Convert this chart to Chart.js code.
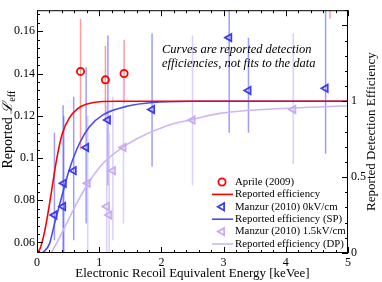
<!DOCTYPE html>
<html>
<head>
<meta charset="utf-8">
<script src="https://cdn.jsdelivr.net/npm/chart.js@4.4.0/dist/chart.umd.min.js"></script>
<style>
html, body { margin: 0; padding: 0; background: #fff; }
#wrap { width: 382px; height: 282px; }
</style>
</head>
<body>
<div id="wrap"><canvas id="chart" width="382" height="282"></canvas></div>
<script>
const SERIF = "'Liberation Serif', 'DejaVu Serif', serif";

// Aprile (2009): energy [keVee], Leff, error band
const aprileE  = [0.70, 1.10, 1.40, 4.71];
const aprileL  = [0.141, 0.137, 0.140, 0.190];
const aprileLo = [0.104, 0.118, 0.126, 0.166];
const aprileHi = [0.166, 0.153, 0.156, 0.215];

// Manzur (2010) 0 kV/cm
const manzur0E  = [0.28, 0.42, 0.43, 0.59, 0.79, 1.14, 1.85, 3.09, 3.40, 4.64];
const manzur0L  = [0.073, 0.077, 0.088, 0.094, 0.105, 0.118, 0.123, 0.157, 0.132, 0.133];
const manzur0Lo = [0.061, 0.050, 0.050, 0.061, 0.069, 0.087, 0.096, 0.112, 0.112, 0.102];
const manzur0Hi = [0.112, 0.125, 0.120, 0.129, 0.143, 0.158, 0.159, 0.190, 0.157, 0.190];

// Manzur (2010) 1.5 kV/cm
const manzur15E  = [0.815, 1.12, 1.16, 1.22, 1.39, 2.50, 4.12];
const manzur15L  = [0.088, 0.077, 0.073, 0.094, 0.105, 0.118, 0.123];
const manzur15Lo = [0.050, 0.050, 0.055, 0.061, 0.069, 0.087, 0.097];
const manzur15Hi = [0.120, 0.125, 0.112, 0.129, 0.143, 0.158, 0.159];

// reported detection efficiencies (right axis)
const effAprileE = [0, 0.05, 0.10, 0.15, 0.20, 0.25, 0.30, 0.35, 0.41, 0.52, 0.65, 0.79, 1.0, 1.3, 5];
const effAprile  = [0, 0.03, 0.10, 0.20, 0.32, 0.45, 0.58, 0.69, 0.79, 0.89, 0.95, 0.98, 0.997, 1, 1];
const effSPE = [0.09, 0.20, 0.28, 0.41, 0.52, 0.68, 0.84, 1.06, 1.48, 1.82, 2.5, 5];
const effSP  = [0, 0.06, 0.19, 0.39, 0.55, 0.72, 0.83, 0.91, 0.97, 0.99, 1, 1];
const effDPE = [0.225, 0.31, 0.47, 0.63, 0.815, 1.06, 1.32, 1.59, 2.08, 2.5, 2.94, 4.12, 5];
const effDP  = [0, 0.06, 0.19, 0.32, 0.455, 0.59, 0.68, 0.75, 0.837, 0.88, 0.92, 0.956, 0.97];

// tick labels
const xTicks  = [0, 1, 2, 3, 4, 5];
const yTicks  = [0.06, 0.08, 0.1, 0.12, 0.14, 0.16];
const y2Ticks = [0, 0.5, 1];

const RED = '#ff0000', BLUE = '#3c3cf0', LILAC = '#c8abf2';

const pts = (xs, ys) => xs.map((x, i) => ({ x, y: ys[i] }));

function markerSet(label, xs, ys, lo, hi, color, barColor, style) {
    return {
        label, data: pts(xs, ys), errLo: lo, errHi: hi, errColor: barColor,
        yAxisID: 'y', showLine: false,
        pointStyle: style, rotation: style === 'triangle' ? -90 : 0,
        pointRadius: style === 'triangle' ? 4.2 : 3.6,
        borderColor: color, backgroundColor: 'rgba(0,0,0,0)', pointBorderWidth: 1.8,
        clip: 0
    };
}

function curveSet(label, xs, ys, color) {
    return {
        label, data: pts(xs, ys), yAxisID: 'y2', showLine: true,
        borderColor: color, backgroundColor: color, borderWidth: 1.6,
        pointRadius: 0, cubicInterpolationMode: 'monotone', isCurve: true
    };
}

const errorBars = {
    id: 'errorBars',
    beforeDatasetsDraw(chart) {
        const { ctx, chartArea: a, scales } = chart;
        ctx.save();
        ctx.beginPath(); ctx.rect(a.left, a.top, a.right - a.left, a.bottom - a.top); ctx.clip();
        chart.data.datasets.forEach(ds => {
            if (!ds.errLo) return;
            ctx.strokeStyle = ds.errColor; ctx.lineWidth = 1.5;
            ds.data.forEach((p, i) => {
                const x = scales.x.getPixelForValue(p.x);
                ctx.beginPath();
                ctx.moveTo(x, scales.y.getPixelForValue(ds.errLo[i]));
                ctx.lineTo(x, scales.y.getPixelForValue(ds.errHi[i]));
                ctx.stroke();
            });
        });
        ctx.restore();
    }
};

const frame = {
    id: 'frame',
    afterDraw(chart) {
        const { ctx, chartArea: a, scales } = chart;
        ctx.save();
        ctx.strokeStyle = '#000'; ctx.lineWidth = 1;
        const seg = (x1, y1, x2, y2) => { ctx.beginPath(); ctx.moveTo(x1, y1); ctx.lineTo(x2, y2); ctx.stroke(); };
        ctx.strokeRect(a.left + 0.5, a.top + 0.5, a.right - a.left - 1, a.bottom - a.top - 1);
        for (let i = 0; i <= 25; i++) {
            const px = Math.round(scales.x.getPixelForValue(i * 0.2)) + 0.5;
            const len = i % 5 === 0 ? 6 : 3;
            seg(px, a.bottom, px, a.bottom - len);
            seg(px, a.top, px, a.top + len);
        }
        for (let k = 14; k <= 42; k++) {
            const py = Math.round(scales.y.getPixelForValue(k * 0.004)) + 0.5;
            seg(a.left, py, a.left + (k % 5 === 0 ? 6 : 3), py);
        }
        for (let k = 0; k <= 16; k++) {
            const py = Math.round(scales.y2.getPixelForValue(k * 0.1)) + 0.5;
            seg(a.right, py, a.right - (k % 5 === 0 ? 6 : 3), py);
        }

        // axis titles
        ctx.fillStyle = '#000';
        ctx.textBaseline = 'alphabetic';
        ctx.font = '13px ' + SERIF;
        ctx.textAlign = 'center';
        ctx.fillText('Electronic Recoil Equivalent Energy [keVee]', (a.left + a.right) / 2, 277);

        const cy = (a.top + a.bottom) / 2;
        ctx.save();
        ctx.translate(375, cy); ctx.rotate(-Math.PI / 2);
        ctx.fillText('Reported Detection Efficiency', 0, 0);
        ctx.restore();

        ctx.save();
        ctx.translate(12, cy - 2); ctx.rotate(-Math.PI / 2);
        ctx.textAlign = 'left';
        const big = '14px ' + SERIF, small = '10px ' + SERIF;
        ctx.font = big;
        const w1 = ctx.measureText('Reported ').width, w2 = ctx.measureText('ℒ').width;
        ctx.font = small;
        const w3 = ctx.measureText('eff').width;
        const x0 = -(w1 + w2 + w3) / 2;
        ctx.font = big;
        ctx.fillText('Reported ', x0, 0);
        ctx.font = 'italic ' + big;
        ctx.fillText('ℒ', x0 + w1, 0);
        ctx.font = small;
        ctx.fillText('eff', x0 + w1 + w2, 3);
        ctx.restore();

        // note
        ctx.font = 'italic 12.5px ' + SERIF;
        ctx.textAlign = 'left';
        ctx.fillText('Curves are reported detection', 162, 53);
        ctx.fillText('efficiencies, not fits to the data', 162, 66.5);

        // legend
        ctx.font = '10.8px ' + SERIF;
        ctx.textBaseline = 'middle';
        chart.data.datasets.forEach((ds, i) => {
            const y = 182 + i * 12.4;
            ctx.strokeStyle = ds.borderColor;
            if (ds.isCurve) {
                ctx.lineWidth = 1.6;
                seg(212, y, 233, y);
            } else {
                ctx.fillStyle = 'rgba(0,0,0,0)';
                ctx.lineWidth = ds.pointBorderWidth;
                Chart.helpers.drawPoint(ctx, {
                    pointStyle: ds.pointStyle, rotation: ds.rotation, radius: ds.pointRadius,
                    borderWidth: ds.pointBorderWidth
                }, 222, y);
            }
            ctx.fillStyle = '#000';
            ctx.fillText(ds.label, 235, y);
        });
        ctx.restore();
    }
};

const datasets = [
    markerSet('Aprile (2009)', aprileE, aprileL, aprileLo, aprileHi, RED, 'rgba(255,90,90,0.6)', 'circle'),
    curveSet('Reported efficiency', effAprileE, effAprile, RED),
    markerSet('Manzur (2010) 0kV/cm', manzur0E, manzur0L, manzur0Lo, manzur0Hi, BLUE, 'rgba(90,90,255,0.6)', 'triangle'),
    curveSet('Reported efficiency (SP)', effSPE, effSP, '#4a4af5'),
    markerSet('Manzur (2010) 1.5kV/cm', manzur15E, manzur15L, manzur15Lo, manzur15Hi, LILAC, 'rgba(210,190,248,0.75)', 'triangle'),
    curveSet('Reported efficiency (DP)', effDPE, effDP, '#cdb6f6')
];

new Chart(document.getElementById('chart'), {
    type: 'scatter',
    data: { datasets },
    plugins: [errorBars, frame],
    options: {
        responsive: false,
        animation: false,
        layout: { padding: { top: 8, left: 0, right: 0, bottom: 0 } },
        plugins: { legend: { display: false }, tooltip: { enabled: false } },
        scales: {
            x: {
                type: 'linear', min: 0, max: 5,
                grid: { display: false, drawTicks: false }, border: { display: false },
                afterBuildTicks: s => { s.ticks = xTicks.map(v => ({ value: v })); },
                afterFit: s => { s.height = 29; },
                ticks: { color: '#000', padding: 3, autoSkip: false, maxRotation: 0,
                         font: { family: SERIF, size: 12 }, callback: v => String(v) }
            },
            y: {
                type: 'linear', position: 'left', min: 0.055, max: 0.17,
                grid: { display: false, drawTicks: false }, border: { display: false },
                afterBuildTicks: s => { s.ticks = yTicks.map(v => ({ value: v })); },
                afterFit: s => { s.width = 37; },
                ticks: { color: '#000', padding: 2, autoSkip: false,
                         font: { family: SERIF, size: 12 }, callback: v => String(+v.toFixed(2)) }
            },
            y2: {
                type: 'linear', position: 'right', min: 0, max: 1.6,
                grid: { display: false, drawTicks: false }, border: { display: false },
                afterBuildTicks: s => { s.ticks = y2Ticks.map(v => ({ value: v })); },
                afterFit: s => { s.width = 34; },
                ticks: { color: '#000', padding: 3, autoSkip: false,
                         font: { family: SERIF, size: 12 }, callback: v => String(v) }
            }
        }
    }
});
</script>
</body>
</html>
